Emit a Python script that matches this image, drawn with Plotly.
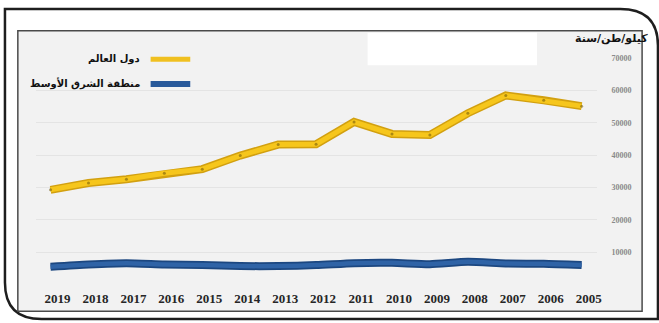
import plotly.graph_objects as go

# Data: annual values (kg / ton / year), listed left to right from 2019 back to 2005
years = ["2019", "2018", "2017", "2016", "2015", "2014", "2013", "2012",
         "2011", "2010", "2009", "2008", "2007", "2006", "2005"]
world = [29300, 31400, 32600, 34400, 35700, 39900, 43300, 43400,
         50300, 46600, 46300, 53000, 58500, 57000, 55200]
middle_east = [5500, 6200, 6600, 6200, 6000, 5700, 5700, 6000,
               6600, 6700, 6300, 7000, 6500, 6400, 6000]

y_ticks = [0, 10000, 20000, 30000, 40000, 50000, 60000, 70000]
y_tick_text = [""] + [str(v) for v in y_ticks[1:]]

legend_world = "دول العالم"
legend_me = "منطقة الشرق الأوسط"
unit_label = "كيلو/طن/سنة"

W, H = 659, 323


def px(x):
    return x / W


def py(y):
    return 1 - y / H


fig = go.Figure()

# World: darker under-stroke with a brighter core
fig.add_trace(go.Scatter(x=years, y=world, mode="lines",
                         line=dict(color="#d2a010", width=8),
                         hoverinfo="skip", showlegend=False))
fig.add_trace(go.Scatter(x=years, y=world, mode="lines+markers",
                         line=dict(color="#f6c61c", width=5),
                         marker=dict(size=3, color="rgba(110,85,10,0.55)"),
                         name=legend_world, showlegend=False))

# Middle East
fig.add_trace(go.Scatter(x=years, y=middle_east, mode="lines",
                         line=dict(color="#1c4780", width=8, shape="spline", smoothing=0.6),
                         hoverinfo="skip", showlegend=False))
fig.add_trace(go.Scatter(x=years, y=middle_east, mode="lines",
                         line=dict(color="#2f63a6", width=4.5, shape="spline", smoothing=0.6),
                         name=legend_me, showlegend=False))

step = (587 - 51) / 14.0
x_lo = -(51 - 36) / step
x_hi = 14 + (602 - 587) / step

shapes = [
    # outer frame with rounded corners
    dict(type="path", xref="paper", yref="paper", layer="below",
         path=(f"M {px(5)},{py(5)} L {px(626)},{py(5)} "
               f"Q {px(664)},{py(5)} {px(664)},{py(42)} "
               f"L {px(664)},{py(319)} L {px(42)},{py(319)} "
               f"Q {px(5)},{py(319)} {px(5)},{py(282)} Z"),
         line=dict(color="#1e1e1e", width=2.5), fillcolor="white"),
    # inner chart panel
    dict(type="rect", xref="paper", yref="paper", layer="below",
         x0=px(18), y0=py(311), x1=px(648), y1=py(27),
         line=dict(color="#4a4a4a", width=1.5), fillcolor="#f2f2f2"),
    # blank patch at the top of the panel
    dict(type="rect", xref="paper", yref="paper", layer="above",
         x0=px(371), y0=py(62), x1=px(542), y1=py(29),
         line=dict(width=0), fillcolor="white"),
    # legend keys
    dict(type="line", xref="paper", yref="paper", layer="above",
         x0=px(152), y0=py(56), x1=px(192), y1=py(56),
         line=dict(color="#f0c020", width=5)),
    dict(type="line", xref="paper", yref="paper", layer="above",
         x0=px(152), y0=py(81), x1=px(192), y1=py(81),
         line=dict(color="#28599a", width=6)),
]

annotations = [
    dict(text=legend_world, xref="paper", yref="paper", x=px(143), y=py(56),
         xanchor="right", yanchor="middle", showarrow=False,
         font=dict(family="DejaVu Sans", size=10, color="#111", weight="bold")),
    dict(text=legend_me, xref="paper", yref="paper", x=px(143), y=py(80),
         xanchor="right", yanchor="middle", showarrow=False,
         font=dict(family="DejaVu Sans", size=10, color="#111", weight="bold")),
    dict(text=unit_label, xref="paper", yref="paper", x=px(656), y=py(35),
         xanchor="right", yanchor="middle", showarrow=False,
         font=dict(family="DejaVu Sans", size=11, color="#111", weight="bold")),
]

fig.update_layout(
    width=W, height=H,
    margin=dict(l=0, r=0, t=0, b=0),
    paper_bgcolor="white",
    plot_bgcolor="rgba(0,0,0,0)",
    showlegend=False,
    shapes=shapes,
    annotations=annotations,
    xaxis=dict(type="category", domain=[px(36), px(602)], range=[x_lo, x_hi],
               showgrid=False, zeroline=False, showline=False, ticks="",
               ticklabelstandoff=5, ticklabelshift=7,
               tickfont=dict(family="Liberation Serif", size=13, color="#262626", weight="bold")),
    yaxis=dict(domain=[py(284), py(55)], range=[0, 70000], side="right",
               tickvals=y_ticks, ticktext=y_tick_text,
               showgrid=True, gridcolor="#e4e4e4", gridwidth=1,
               zeroline=False, showline=False, ticks="",
               ticklabelstandoff=14,
               tickfont=dict(family="Liberation Serif", size=8, color="#8a8a8a", weight="bold")),
)

fig.write_html("out.html")
